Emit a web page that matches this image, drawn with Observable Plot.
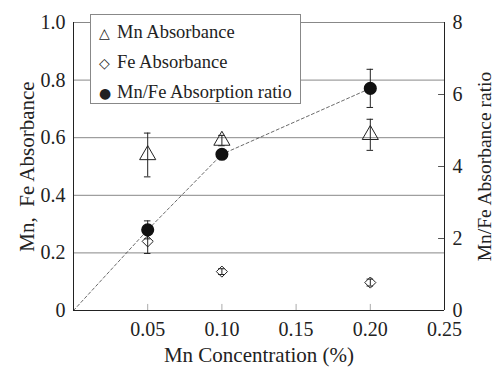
<!DOCTYPE html>
<html><head><meta charset="utf-8">
<script src="https://cdn.jsdelivr.net/npm/d3@7"></script>
<script src="https://cdn.jsdelivr.net/npm/@observablehq/plot@0.6"></script>
<style>
body{margin:0;background:#fff;}
#wrap{position:relative;width:497px;height:367px;}
#legend{position:absolute;left:90px;top:14px;width:211px;height:90px;border:1px solid #888;background:#fff;font-family:"Liberation Serif";font-size:18.5px;color:#222;box-sizing:border-box;}
#legend .row{position:absolute;left:8px;height:20px;line-height:20px;white-space:nowrap;}
#legend .sym{display:inline-block;width:18px;font-family:"DejaVu Sans";font-size:14px;}
</style></head><body><div id="wrap"></div>
<script>
const conc = [0.05, 0.10, 0.20];
const mnAbs = [0.54, 0.59, 0.61];
const mnErr = [0.076, 0.018, 0.054];
const feAbs = [0.24, 0.135, 0.097];
const feErr = [0.042, 0.01, 0.012];
const ratio = [2.24, 4.34, 6.17];
const ratioErr = [0.25, 0.12, 0.53];
const xTicks = [0.05, 0.10, 0.15, 0.20, 0.25];
const yTicks = [0, 0.2, 0.4, 0.6, 0.8, 1.0];
const rTicks = [0, 2, 4, 6, 8];
const rMax = 8;
const seriesNames = ["Mn Absorbance", "Fe Absorbance", "Mn/Fe Absorption ratio"];
const legendGlyphs = ["\u25B3", "\u25C7", "\u25CF"];
const SERIF = "Liberation Serif";

const mn = conc.map((c, i) => ({x: c, y: mnAbs[i], e: mnErr[i]}));
const fe = conc.map((c, i) => ({x: c, y: feAbs[i], e: feErr[i]}));
const rat = conc.map((c, i) => ({x: c, y: ratio[i] / rMax, e: ratioErr[i] / rMax}));
const all = [...mn, ...fe, ...rat];
const caps = all.flatMap(d => [{x: d.x, yc: d.y - d.e}, {x: d.x, yc: d.y + d.e}]);
const ink = "#222";

const chart = Plot.plot({
  width: 497, height: 367,
  marginLeft: 73, marginRight: 53, marginTop: 22, marginBottom: 57,
  style: {fontFamily: SERIF, fontSize: "20px", color: ink, background: "#fff"},
  x: {domain: [0, 0.25]},
  y: {domain: [0, 1]},
  marks: [
    Plot.gridY(yTicks.slice(1), {stroke: "#888", strokeOpacity: 1, strokeWidth: 1}),
    Plot.ruleX(xTicks.slice(0, -1), {y1: 0, y2: 0.021, stroke: "#aaa"}),
    Plot.ruleY(rTicks.slice(1, -1).map(v => v / rMax), {x1: 0.246, x2: 0.25, stroke: "#555"}),
    Plot.line([{x: 0, y: 0}, ...rat], {x: "x", y: "y", stroke: "#444", strokeWidth: 0.8, strokeDasharray: "3,2.5"}),
    Plot.ruleX(all, {x: "x", y1: d => d.y - d.e, y2: d => d.y + d.e, stroke: ink, strokeWidth: 1}),
    Plot.ruleY(caps, {y: "yc", x1: d => d.x - 0.0022, x2: d => d.x + 0.0022, stroke: ink, strokeWidth: 1}),
    Plot.dot(mn, {x: "x", y: "y", symbol: "triangle", r: 6, fill: "none", stroke: ink, strokeWidth: 1}),
    Plot.dot(fe, {x: "x", y: "y", symbol: "diamond2", r: 5, fill: "none", stroke: ink, strokeWidth: 1}),
    Plot.dot(rat, {x: "x", y: "y", r: 5.8, fill: "#111", stroke: "#111"}),
    Plot.ruleX([0, 0.25], {stroke: ink, strokeWidth: 1}),
    Plot.ruleY([0], {stroke: ink, strokeWidth: 1}),
    Plot.axisX({ticks: xTicks, tickFormat: d3.format(".2f"), tickSize: 0, tickPadding: 11,
      label: "Mn Concentration (%)", labelAnchor: "center", labelArrow: "none", labelOffset: 51}),
    Plot.axisY({ticks: yTicks, tickFormat: d => d === 0 ? "0" : d3.format(".1f")(d), tickSize: 0, tickPadding: 8,
      label: "Mn,\u00a0\u00a0Fe Absorbance", labelAnchor: "center", labelArrow: "none", labelOffset: 54}),
    Plot.axisY({anchor: "right", ticks: rTicks.map(v => v / rMax), tickFormat: d => String(Math.round(d * rMax)),
      tickSize: 0, tickPadding: 8, label: "Mn/Fe Absorbance ratio", labelAnchor: "center", labelArrow: "none", labelOffset: 46})
  ]
});
d3.select(chart).selectAll('g[aria-label="x-axis label"] text').style("font-size", "21px");
d3.select(chart).selectAll('g[aria-label="y-axis label"] text').style("font-size", "21px");
d3.select(chart).selectAll('g[aria-label="y-axis label"]').filter((d, i, n) => i === n.length - 1).selectAll("text").style("font-size", "19.5px");
const wrap = document.getElementById("wrap");
wrap.appendChild(chart);
const leg = document.createElement("div");
leg.id = "legend";
seriesNames.forEach((n, i) => {
  const r = document.createElement("div");
  r.className = "row";
  r.style.top = (7 + i * 30) + "px";
  r.innerHTML = `<span class="sym">${legendGlyphs[i]}</span>${n}`;
  leg.appendChild(r);
});
wrap.appendChild(leg);
</script></body></html>
